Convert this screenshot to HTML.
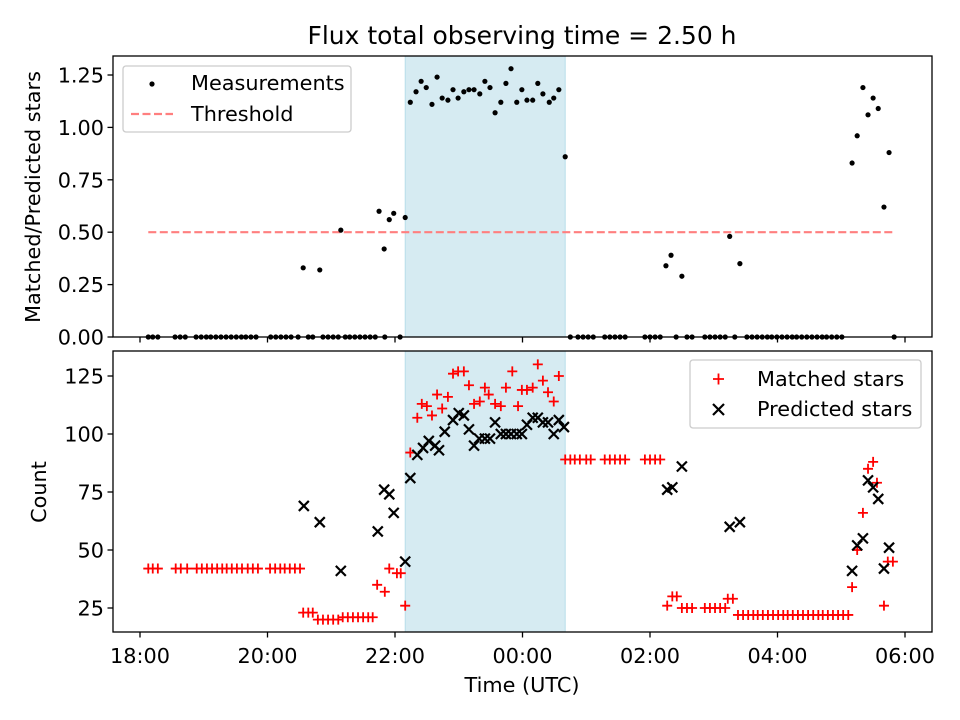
<!DOCTYPE html>
<html><head><meta charset="utf-8"><style>
body{margin:0;background:#fff}
svg{display:block;font-family:"DejaVu Sans","Liberation Sans",sans-serif}
</style></head><body>
<svg id="chart" width="960" height="720" viewBox="0 0 960 720" xmlns="http://www.w3.org/2000/svg">
<rect width="960" height="720" fill="#fff"/>
<text x="522" y="44" font-size="25" text-anchor="middle">Flux total observing time = 2.50 h</text>
<g id="gtop"></g><g id="gbot"></g>
</svg>
<script>
// times are hours after 18:00 UTC
const zeroTimes=[0.13,0.20,0.28,0.55,0.63,0.71,0.88,0.96,1.04,1.11,1.19,1.27,1.35,1.43,1.51,1.59,1.66,1.74,1.82,2.05,2.13,2.21,2.29,2.37,2.48,2.64,2.71,2.87,2.95,3.03,3.11,3.22,3.29,3.37,3.45,3.53,3.61,3.69,3.84,4.08,6.75,6.87,6.95,7.03,7.11,7.29,7.37,7.45,7.53,7.61,7.92,8.00,8.08,8.16,8.41,8.58,8.66,8.86,8.94,9.02,9.10,9.18,9.33,9.52,9.60,9.68,9.76,9.84,9.91,9.99,10.07,10.15,10.23,10.30,10.38,10.46,10.54,10.62,10.70,10.77,10.85,10.93,11.01,11.83];
const ratioTimes=[2.56,2.82,3.15,3.75,3.83,3.91,3.98,4.16,4.24,4.33,4.41,4.49,4.58,4.66,4.74,4.83,4.91,4.99,5.08,5.16,5.24,5.33,5.41,5.49,5.57,5.66,5.74,5.82,5.91,5.99,6.07,6.16,6.24,6.32,6.42,6.49,6.57,6.67,8.25,8.33,8.50,9.25,9.41,11.17,11.25,11.34,11.42,11.50,11.58,11.67,11.75];
const ratioValues=[0.33,0.32,0.51,0.60,0.42,0.56,0.59,0.57,1.12,1.17,1.22,1.19,1.11,1.24,1.14,1.13,1.18,1.14,1.17,1.18,1.18,1.16,1.22,1.19,1.07,1.12,1.21,1.28,1.12,1.18,1.13,1.13,1.21,1.16,1.12,1.14,1.18,0.86,0.34,0.39,0.29,0.48,0.35,0.83,0.96,1.19,1.06,1.14,1.09,0.62,0.88];
const matchedTimes=[0.13,0.20,0.28,0.56,0.64,0.74,0.89,0.97,1.05,1.13,1.21,1.29,1.36,1.44,1.52,1.60,1.69,1.77,1.85,2.04,2.12,2.20,2.27,2.35,2.43,2.51,
2.56,2.64,2.71,2.79,2.87,2.95,3.03,3.11,3.18,3.26,3.34,3.42,3.50,3.58,3.65,3.72,3.84,3.91,4.03,4.09,4.16,
4.24,4.35,4.42,4.50,4.58,4.66,4.74,4.83,4.91,4.99,5.08,5.16,5.24,5.33,5.41,5.47,5.57,5.66,5.74,5.84,5.93,5.99,6.07,6.16,6.24,6.32,6.40,6.49,6.57,
6.67,6.75,6.82,6.90,7.00,7.07,7.29,7.37,7.45,7.53,7.61,7.92,8.00,8.08,8.16,
8.27,8.35,8.42,8.50,8.58,8.66,8.86,8.94,9.02,9.10,9.18,9.22,9.30,
9.38,9.46,9.54,9.62,9.69,9.77,9.85,9.93,10.01,10.09,10.16,10.24,10.32,10.40,10.48,10.56,10.64,10.71,10.79,10.87,10.95,11.03,11.11,
11.17,11.25,11.34,11.42,11.50,11.56,11.67,11.73,11.81];
const matchedValues=[42,42,42,42,42,42,42,42,42,42,42,42,42,42,42,42,42,42,42,42,42,42,42,42,42,42,
23,23,23,20,20,20,20,20,21,21,21,21,21,21,21,35,32,42,40,40,26,
92,107,113,112,108,117,111,116,126,127,127,121,113,114,120,117,113,112,120,127,112,119,119,120,130,123,118,114,125,
89,89,89,89,89,89,89,89,89,89,89,89,89,89,89,
26,30,30,25,25,25,25,25,25,25,25,29,29,
22,22,22,22,22,22,22,22,22,22,22,22,22,22,22,22,22,22,22,22,22,22,22,
34,50,66,85,88,79,26,45,45];
const predictedTimes=[2.57,2.82,3.15,3.73,3.83,3.91,3.98,4.16,4.24,4.35,4.44,4.53,4.63,4.69,4.78,4.91,5.00,5.08,5.16,5.24,5.32,5.41,5.49,5.57,5.66,5.74,5.82,5.91,5.99,6.07,6.16,6.24,6.32,6.40,6.49,6.57,6.65,8.27,8.35,8.50,9.25,9.41,11.17,11.25,11.34,11.42,11.50,11.58,11.67,11.75];
const predictedValues=[69,62,41,58,76,74,66,45,81,91,94,97,95,93,101,106,109,108,102,95,98,98,98,105,100,100,100,100,100,104,107,107,105,105,100,106,103,76,77,86,60,62,41,52,55,80,77,72,42,51];
const xTicks=[0,2,4,6,8,10,12];
const xTickLabels=["18:00","20:00","22:00","00:00","02:00","04:00","06:00"];
const topTicks=[0,0.25,0.5,0.75,1.0,1.25];
const topTickLabels=["0.00","0.25","0.50","0.75","1.00","1.25"];
const botTicks=[25,50,75,100,125];
const threshold=0.5, thrStart=0.13, thrEnd=11.81;
const bandStart=4.16, bandEnd=6.67;

const NS="http://www.w3.org/2000/svg";
const L=113,R=932,T1=56,B1=337,T2=351,B2=632;
const FS=20.8;
const X=h=>140+h*63.75;
const Y1=v=>337-v*209.6;
const Y2=v=>608-(v-25)*2.32;
function mk(p,tag,at){const e=document.createElementNS(NS,tag);for(const k in at)e.setAttribute(k,at[k]);p.appendChild(e);return e;}
const gTop=document.getElementById('gtop'), gBot=document.getElementById('gbot');

function band(g,t,b){
 const r=mk(g,'rect',{x:X(bandStart),y:t,width:X(bandEnd)-X(bandStart),height:b-t,fill:'#add8e6','fill-opacity':0.5,stroke:'#add8e6','stroke-opacity':0.8});
 
 
}
band(gTop,T1,B1); band(gBot,T2,B2);

const thr=mk(gTop,'line',{x1:X(thrStart),x2:X(thrEnd),y1:Y1(threshold),y2:Y1(threshold),stroke:'#ff7f7f','stroke-width':2.2,'stroke-dasharray':'8,3.5'});



zeroTimes.forEach(t=>{const c=mk(gTop,'circle',{cx:X(t),cy:Y1(0),r:2.6,fill:'#000'});
 
 });
ratioTimes.forEach((t,i)=>{const c=mk(gTop,'circle',{cx:X(t),cy:Y1(ratioValues[i]),r:2.6,fill:'#000'});
 
 });

matchedTimes.forEach((t,i)=>{const x=X(t),y=Y2(matchedValues[i]);
 const p=mk(gBot,'path',{d:`M${x-5},${y}H${x+5}M${x},${y-5}V${y+5}`,stroke:'#f00','stroke-width':1.8,fill:'none'});
 
 });
predictedTimes.forEach((t,i)=>{const x=X(t),y=Y2(predictedValues[i]);
 const p=mk(gBot,'path',{d:`M${x-5},${y-5}L${x+5},${y+5}M${x-5},${y+5}L${x+5},${y-5}`,stroke:'#000','stroke-width':2.2,fill:'none'});
 
 });

[[gTop,T1,B1],[gBot,T2,B2]].forEach(([g,t,b])=>{const r=mk(g,'rect',{x:L,y:t,width:R-L,height:b-t,fill:'none',stroke:'#000','stroke-width':1.3});
 
 });

xTicks.forEach((h,i)=>{
 mk(gTop,'line',{x1:X(h),x2:X(h),y1:B1,y2:B1+5.5,stroke:'#000','stroke-width':1.3});
 mk(gBot,'line',{x1:X(h),x2:X(h),y1:B2,y2:B2+5.5,stroke:'#000','stroke-width':1.3});
 const tx=mk(gBot,'text',{x:X(h),y:663,'font-size':FS,'text-anchor':'middle'});tx.textContent=xTickLabels[i];
 
 
});
topTicks.forEach((v,i)=>{
 mk(gTop,'line',{x1:L-5.5,x2:L,y1:Y1(v),y2:Y1(v),stroke:'#000','stroke-width':1.3});
 const tx=mk(gTop,'text',{x:L-9,y:Y1(v)+7.5,'font-size':FS,'text-anchor':'end'});tx.textContent=topTickLabels[i];
 
 
});
botTicks.forEach(v=>{
 mk(gBot,'line',{x1:L-5.5,x2:L,y1:Y2(v),y2:Y2(v),stroke:'#000','stroke-width':1.3});
 const tx=mk(gBot,'text',{x:L-9,y:Y2(v)+7.5,'font-size':FS,'text-anchor':'end'});tx.textContent=String(v);
 
 
});

const s=document.getElementById('chart');
s.insertAdjacentHTML('beforeend',`
<text transform="translate(40,197) rotate(-90)" font-size="20.8" text-anchor="middle">Matched/Predicted stars</text>
<text transform="translate(46,492) rotate(-90)" font-size="20.8" text-anchor="middle">Count</text>
<text x="522" y="692" font-size="20.8" text-anchor="middle">Time (UTC)</text>
<g>
<rect x="123" y="66" width="228" height="66" rx="3" fill="#fff" fill-opacity="0.8" stroke="#ccc" stroke-width="1.3"/>
<circle cx="152" cy="84" r="2.6" fill="#000"/>
<text x="191" y="90" font-size="20.8">Measurements</text>
<line x1="131" x2="173" y1="114" y2="114" stroke="#ff7f7f" stroke-width="2.2" stroke-dasharray="8,3.5"/>
<text x="191" y="121" font-size="20.8">Threshold</text>
</g>
<g>
<rect x="690" y="360" width="231" height="68" rx="3" fill="#fff" fill-opacity="0.8" stroke="#ccc" stroke-width="1.3"/>
<path d="M713,379H724M718.5,373.5V384.5" stroke="#f00" stroke-width="1.8"/>
<text x="757" y="386" font-size="20.8">Matched stars</text>
<path d="M713,404L724,415M713,415L724,404" stroke="#000" stroke-width="2.2"/>
<text x="757" y="416" font-size="20.8">Predicted stars</text>
</g>`);
</script>
</body></html>
